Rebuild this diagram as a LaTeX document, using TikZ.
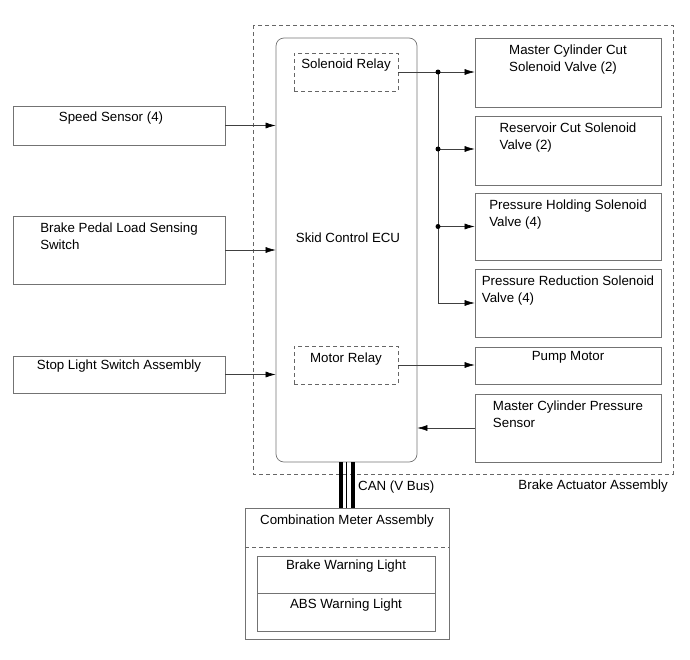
\documentclass[tikz,border=0pt]{standalone}
\usepackage{fontspec}
\setmainfont{Liberation Sans}
\usetikzlibrary{arrows.meta,calc}
\begin{document}
\begin{tikzpicture}[x=1pt,y=-1pt,
  every node/.style={font=\fontsize{13.3}{17}\selectfont},
  box/.style={draw=black!55, line width=0.7pt, inner sep=0pt},
  dbox/.style={draw=black!60, line width=0.6pt, dash pattern=on 4pt off 3pt, inner sep=0pt},
  txt/.style={anchor=north, align=left, inner sep=0pt, text=black},
  conn/.style={draw=black!75, line width=0.6pt},
  arr/.style={conn, -{Latex[length=10pt,width=6pt,color=black]}},
  jdot/.style={circle, fill=black, inner sep=0pt, minimum size=5pt}
]
\useasboundingbox (0,0) rectangle (690,659);

% Brake actuator assembly
\draw[dbox] (253,25) rectangle (673,474);
\node[anchor=base east, inner sep=0pt] (baa) at (668,489) {Brake Actuator Assembly};

% ECU
\node[box, rounded corners=8pt, minimum width=141pt, minimum height=424pt] (ecu) at (346.5,250) {};
\node[inner sep=0pt] (ecut) at (348,238) {Skid Control ECU};
\node[dbox, minimum width=104pt, minimum height=38pt] (srel) at (346,72) {};
\node[txt] (srelt) at ([yshift=-6pt]srel.north) {Solenoid Relay};
\node[dbox, minimum width=104pt, minimum height=38pt] (mrel) at (346,365) {};
\node[txt] (mrelt) at ([yshift=-7pt]mrel.north) {Motor Relay};

% Left boxes
\node[box, minimum width=212pt, minimum height=39pt] (spd) at (119,125.5) {};
\node[txt] (spdt) at ([xshift=-8pt,yshift=-6pt]spd.north) {Speed Sensor (4)};
\node[box, minimum width=212pt, minimum height=68pt] (bpl) at (119,250) {};
\node[txt] (bplt) at ([yshift=-7pt]bpl.north) {Brake Pedal Load Sensing\\Switch};
\node[box, minimum width=212pt, minimum height=37pt] (stp) at (119,374.5) {};
\node[txt] (stpt) at ([yshift=-4pt]stp.north) {Stop Light Switch Assembly};

% Right boxes
\node[box, minimum width=186pt, minimum height=69pt] (mcc) at (568,72.5) {};
\node[txt] (mcct) at ([yshift=-7pt]mcc.north) {Master Cylinder Cut\\Solenoid Valve (2)};
\node[box, minimum width=186pt, minimum height=69pt] (rcs) at (568,150.5) {};
\node[txt] (rcst) at ([yshift=-7pt]rcs.north) {Reservoir Cut Solenoid\\Valve (2)};
\node[box, minimum width=186pt, minimum height=67pt] (phs) at (568,226.5) {};
\node[txt] (phst) at ([yshift=-7pt]phs.north) {Pressure Holding Solenoid\\Valve (4)};
\node[box, minimum width=186pt, minimum height=68pt] (prs) at (568,303) {};
\node[txt] (prst) at ([yshift=-7pt]prs.north) {Pressure Reduction Solenoid\\Valve (4)};
\node[box, minimum width=186pt, minimum height=37pt] (pmp) at (568,365.5) {};
\node[txt] (pmpt) at ([yshift=-4pt]pmp.north) {Pump Motor};
\node[box, minimum width=186pt, minimum height=68pt] (mcp) at (568,428) {};
\node[txt] (mcpt) at ([yshift=-7pt]mcp.north) {Master Cylinder Pressure\\Sensor};

% Combination meter
\node[box, minimum width=204pt, minimum height=131pt] (cma) at (347,573.5) {};
\node[txt] (cmat) at ([yshift=-7pt]cma.north) {Combination Meter Assembly};
\coordinate (cmdl) at (245,547);
\coordinate (cmdr) at (449,547);
\draw[dbox] (cmdl) -- (cmdr);
\node[box, minimum width=178pt, minimum height=37pt] (bwl) at (346,574.5) {};
\node[txt] (bwlt) at ([yshift=-4pt]bwl.north) {Brake Warning Light};
\node[box, minimum width=178pt, minimum height=38pt] (awl) at (346,612) {};
\node[txt] (awlt) at ([yshift=-6pt]awl.north) {ABS Warning Light};

% Inputs
\draw[arr] (spd.east) -- (ecu.west |- spd.east);
\draw[arr] (bpl.east) -- (ecu.west |- bpl.east);
\draw[arr] (stp.east) -- (ecu.west |- stp.east);

% Solenoid relay outputs
\coordinate (j0) at (438,72);
\coordinate (j3) at (438,303);
\draw[conn] (srel.east) -- (j0) -- (j3);
\draw[arr] (j0) -- (mcc.west |- j0);
\draw[arr] (438,149) -- (rcs.west |- 438,149);
\draw[arr] (438,226.5) -- (phs.west |- 438,226.5);
\draw[arr] (j3) -- (prs.west |- j3);
\node[jdot] (d0) at (j0) {};
\node[jdot] (d1) at (438,149) {};
\node[jdot] (d2) at (438,226.5) {};

% Motor relay and sensor
\draw[arr] (mrel.east) -- (pmp.west |- mrel.east);
\draw[arr] (mcp.west) -- (ecu.east |- mcp.west);

% CAN bus
\draw[line width=4pt] ([xshift=-6pt]ecu.south) -- ([xshift=-6pt]ecu.south |- cma.north);
\draw[line width=4pt] ([xshift=6pt]ecu.south) -- ([xshift=6pt]ecu.south |- cma.north);
\draw[line width=1pt] (ecu.south) -- (ecu.south |- cma.north);
\node[anchor=base west, inner sep=0pt] (can) at (358,490) {CAN (V Bus)};
\end{tikzpicture}
\end{document}
